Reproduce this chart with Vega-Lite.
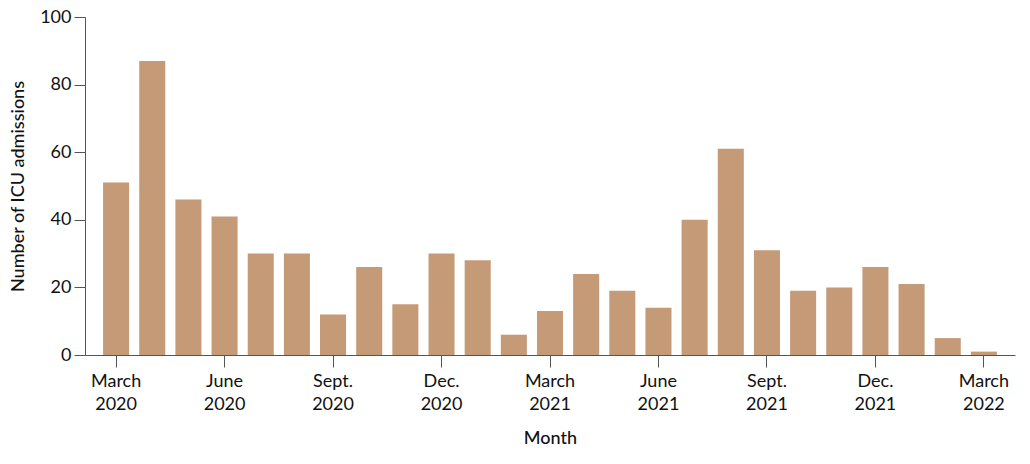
{
  "$schema": "https://vega.github.io/schema/vega-lite/v6.json",
  "width": 930,
  "height": 338,
  "autosize": "none",
  "padding": {"left": 85, "top": 17, "right": 15, "bottom": 109},
  "background": "white",
  "config": {
    "font": "Lato",
    "view": {"stroke": null}
  },
  "data": {
    "values": [
      {"month": "March 2020", "admissions": 51},
      {"month": "April 2020", "admissions": 87},
      {"month": "May 2020", "admissions": 46},
      {"month": "June 2020", "admissions": 41},
      {"month": "July 2020", "admissions": 30},
      {"month": "Aug. 2020", "admissions": 30},
      {"month": "Sept. 2020", "admissions": 12},
      {"month": "Oct. 2020", "admissions": 26},
      {"month": "Nov. 2020", "admissions": 15},
      {"month": "Dec. 2020", "admissions": 30},
      {"month": "Jan. 2021", "admissions": 28},
      {"month": "Feb. 2021", "admissions": 6},
      {"month": "March 2021", "admissions": 13},
      {"month": "April 2021", "admissions": 24},
      {"month": "May 2021", "admissions": 19},
      {"month": "June 2021", "admissions": 14},
      {"month": "July 2021", "admissions": 40},
      {"month": "Aug. 2021", "admissions": 61},
      {"month": "Sept. 2021", "admissions": 31},
      {"month": "Oct. 2021", "admissions": 19},
      {"month": "Nov. 2021", "admissions": 20},
      {"month": "Dec. 2021", "admissions": 26},
      {"month": "Jan. 2022", "admissions": 21},
      {"month": "Feb. 2022", "admissions": 5},
      {"month": "March 2022", "admissions": 1}
    ]
  },
  "mark": {"type": "bar", "color": "#C49A77"},
  "encoding": {
    "x": {
      "field": "month",
      "type": "ordinal",
      "sort": null,
      "title": "Month",
      "scale": {"paddingInner": 0.28, "paddingOuter": 0.5},
      "axis": {
        "values": ["March 2020", "June 2020", "Sept. 2020", "Dec. 2020", "March 2021", "June 2021", "Sept. 2021", "Dec. 2021", "March 2022"],
        "labelExpr": "split(datum.value, ' ')",
        "labelAngle": 0,
        "labelFontSize": 18,
        "labelColor": "#111",
        "labelLineHeight": 23,
        "labelPadding": 5,
        "tickSize": 12,
        "tickColor": "#555",
        "domainColor": "#555",
        "titleFontSize": 18,
        "titleFontWeight": 500,
        "titleColor": "#111",
        "titlePadding": 16
      }
    },
    "y": {
      "field": "admissions",
      "type": "quantitative",
      "title": "Number of ICU admissions",
      "scale": {"domain": [0, 100]},
      "axis": {
        "values": [0, 20, 40, 60, 80, 100],
        "grid": false,
        "labelFontSize": 18,
        "labelColor": "#111",
        "labelPadding": 3,
        "tickSize": 11,
        "tickColor": "#555",
        "domainColor": "#555",
        "titleFontSize": 18,
        "titleFontWeight": 500,
        "titleColor": "#111",
        "titlePadding": 12
      }
    }
  }
}
